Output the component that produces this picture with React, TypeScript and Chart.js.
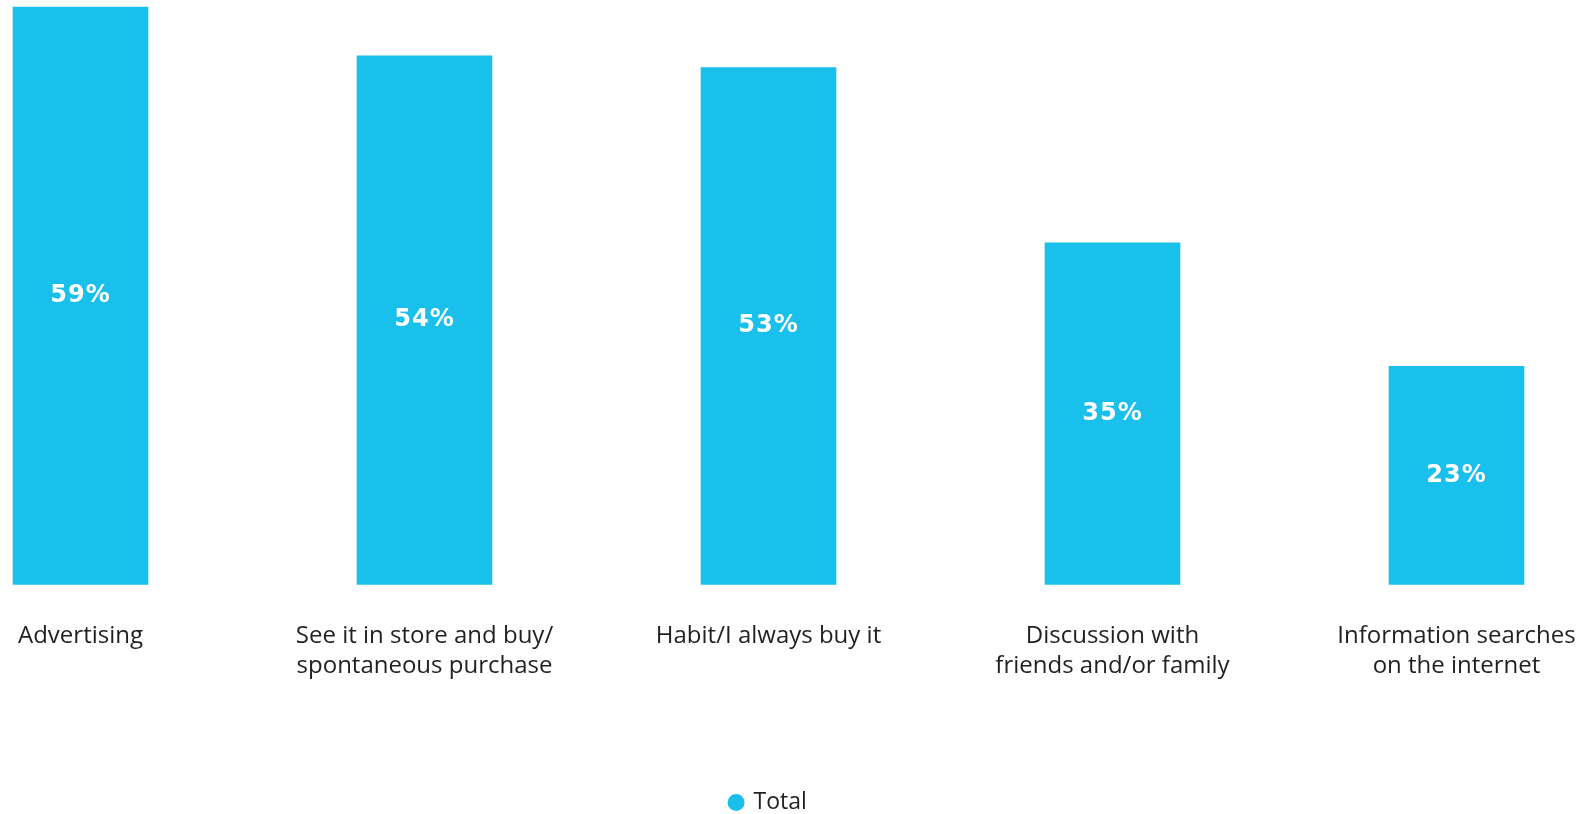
import React, { useEffect, useRef } from "react";
import { Chart, registerables } from "chart.js";

Chart.register(...registerables);

const categories: string[][] = [
  ["Advertising"],
  ["See it in store and buy/", "spontaneous purchase"],
  ["Habit/I always buy it"],
  ["Discussion with", "friends and/or family"],
  ["Information searches", "on the internet"],
];
const totalValues: number[] = [59, 54, 52.8, 34.9, 22.3];
const valueLabels: string[] = ["59%", "54%", "53%", "35%", "23%"];
const seriesName = "Total";

const BAR_COLOR = "#19C0EB";
const TEXT_COLOR = "#231F20";

const barLabelsPlugin = {
  id: "barLabels",
  afterDatasetsDraw(chart: any) {
    const ctx = chart.ctx;
    const meta = chart.getDatasetMeta(0);
    ctx.save();
    ctx.fillStyle = "#FFFFFF";
    ctx.font = "bold 24px 'DejaVu Sans'";
    try {
      (ctx as any).letterSpacing = "1px";
    } catch (e) {}
    ctx.textAlign = "center";
    ctx.textBaseline = "middle";
    meta.data.forEach((bar: any, i: number) => {
      const y = (bar.y + bar.base) / 2;
      ctx.fillText(valueLabels[i], bar.x, y);
    });
    ctx.restore();
  },
};

const legendShiftPlugin = {
  id: "legendShift",
  afterLayout(chart: any) {
    if (chart.legend) {
      chart.legend.top += 10;
      chart.legend.bottom += 10;
    }
  },
};

export default function App() {
  const canvasRef = useRef<HTMLCanvasElement | null>(null);

  useEffect(() => {
    if (!canvasRef.current) return;
    const chart = new Chart(canvasRef.current, {
      type: "bar",
      data: {
        labels: categories,
        datasets: [
          {
            label: seriesName,
            data: totalValues,
            backgroundColor: BAR_COLOR,
            borderWidth: 0,
            barThickness: 135,
            clip: false,
          } as any,
        ],
      },
      options: {
        animation: false,
        responsive: true,
        maintainAspectRatio: false,
        layout: {
          padding: { left: 80.5, right: 125.5, top: 7, bottom: 0 },
        },
        plugins: {
          tooltip: { enabled: false },
          legend: {
            position: "bottom",
            labels: {
              usePointStyle: true,
              pointStyle: "circle",
              boxHeight: 12,
              boxWidth: 12,
              padding: 3,
              color: TEXT_COLOR,
              font: { family: "'Open Sans'", size: 23 },
            },
          },
        },
        scales: {
          x: {
            offset: false,
            grid: { display: false, drawTicks: true, tickLength: 37 },
            border: { display: false },
            ticks: {
              color: TEXT_COLOR,
              padding: 0,
              maxRotation: 0,
              autoSkip: false,
              font: { family: "'Open Sans'", size: 24, lineHeight: 1.25 },
            },
            afterFit: (scale: any) => {
              scale.height += 96.5;
            },
          },
          y: {
            display: false,
            min: 0,
            max: 59,
          },
        },
      },
      plugins: [barLabelsPlugin, legendShiftPlugin],
    });
    return () => chart.destroy();
  }, []);

  return (
    <div style={{ position: "absolute", left: 0, top: 0, width: 1582, height: 814 }}>
      <canvas ref={canvasRef} />
    </div>
  );
}
